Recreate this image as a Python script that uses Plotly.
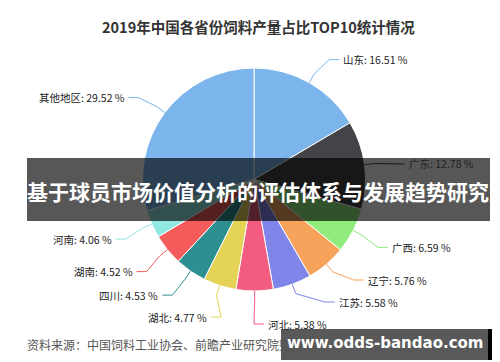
import math
import plotly.graph_objects as go

# ---- data ----
regions = ["山东", "广东", "广西", "辽宁", "江苏", "河北", "湖北", "四川", "湖南", "河南", "其他地区"]
shares = [16.51, 12.78, 6.59, 5.76, 5.58, 5.38, 4.77, 4.53, 4.52, 4.06, 29.52]
colors = ["#7cb5ec", "#434348", "#90ed7d", "#f7a35c", "#8085e9", "#f15c80",
          "#e4d354", "#2b908f", "#f45b5b", "#91e8e1", "#7cb5ec"]
title_text = "2019年中国各省份饲料产量占比TOP10统计情况"
banner_text = "基于球员市场价值分析的评估体系与发展趋势研究"
source_text = "资料来源：中国饲料工业协会、前瞻产业研究院整理"
site_text = "www.odds-bandao.com"

# ---- layout geometry (pixels) ----
W, H = 500, 362
cx, cy, r = 246.0, 171.5, 111.5
R = r + 30          # label circle
gap = 14            # gap between label circle and text
spacing = 22        # min vertical spacing between labels
FONT = "Noto Sans CJK SC, Noto Sans, DejaVu Sans"

fig = go.Figure()
fig.add_trace(go.Pie(
    labels=regions, values=shares, sort=False, direction="clockwise", rotation=0,
    marker=dict(colors=colors, line=dict(color="white", width=1)),
    textinfo="none", hoverinfo="label+percent", showlegend=False,
    domain=dict(x=[(cx - r) / W, (cx + r) / W], y=[(H - (cy + r)) / H, (H - (cy - r)) / H]),
))
# invisible pixel-space axes for annotations/shapes
fig.add_trace(go.Scatter(x=[0, W], y=[0, H], mode="markers", marker=dict(opacity=0),
                         hoverinfo="skip", showlegend=False))

total = sum(shares)
cum = 0.0
items = []
for name, v, c in zip(regions, shares, colors):
    mid = (cum + v / 2) / total * 2 * math.pi
    cum += v
    side = 1 if mid < math.pi else -1
    y = cy - R * math.cos(mid) + 3
    items.append(dict(name=name, v=v, c=c, th=mid, side=side, y=y))

for s in (1, -1):
    grp = sorted([it for it in items if it["side"] == s and it["y"] > cy], key=lambda d: -d["y"])
    prev = None
    for it in grp:
        if prev is not None:
            it["y"] = min(it["y"], prev - spacing)
        prev = it["y"]

shapes = []
annotations = []
for it in items:
    th, s, y = it["th"], it["side"], it["y"]
    dy = y - cy
    xc = cx + s * math.sqrt(max(R * R - dy * dy, 0))
    x0, y0 = cx + r * math.sin(th), cy - r * math.cos(th)
    x1, y1 = cx + (r + 10) * math.sin(th), cy - (r + 10) * math.cos(th)
    x3 = xc + s * (gap - 4)
    shapes.append(dict(type="path", xref="x", yref="y",
                       path=f"M {x0:.1f},{y0:.1f} L {x1:.1f},{y1:.1f} L {xc:.1f},{y:.1f} L {x3:.1f},{y:.1f}",
                       line=dict(color=it["c"], width=1)))
    annotations.append(dict(x=xc + s * (gap - 2), y=y, xref="x", yref="y",
                            text=f"{it['name']}: {it['v']:.2f} %", showarrow=False,
                            xanchor="left" if s > 0 else "right", yanchor="middle",
                            font=dict(family=FONT, size=10.5, color="#222222")))

# title
annotations.append(dict(x=250, y=18, xref="x", yref="y", text=f"<b>{title_text}</b>", showarrow=False,
                        xanchor="center", yanchor="middle", font=dict(family=FONT, size=14.5, color="#333333")))
# banner
shapes.append(dict(type="rect", xref="x", yref="y", x0=19, x1=482, y0=150, y1=213,
                   fillcolor="rgba(0,0,0,0.66)", line=dict(width=0), layer="above"))
annotations.append(dict(x=250, y=183, xref="x", yref="y", text=f"<b>{banner_text}</b>", showarrow=False,
                        xanchor="center", yanchor="middle", font=dict(family=FONT, size=21, color="white")))
# source
annotations.append(dict(x=17, y=336, xref="x", yref="y", text=source_text, showarrow=False,
                        xanchor="left", yanchor="middle", font=dict(family=FONT, size=12, color="#555555")))
# site box
shapes.append(dict(type="rect", xref="x", yref="y", x0=273, x1=480, y0=321, y1=352,
                   fillcolor="rgba(0,0,0,0.65)", line=dict(width=0), layer="above"))
shapes.append(dict(type="rect", xref="x", yref="y", x0=480, x1=487, y0=321, y1=352,
                   fillcolor="#000000", line=dict(width=0), layer="above"))
annotations.append(dict(x=377, y=335, xref="x", yref="y", text=f"<b>{site_text}</b>", showarrow=False,
                        xanchor="center", yanchor="middle", font=dict(family="DejaVu Sans, Noto Sans", size=15, color="white")))

fig.update_layout(
    width=W, height=H, margin=dict(l=0, r=0, t=0, b=0),
    paper_bgcolor="white", plot_bgcolor="rgba(0,0,0,0)",
    xaxis=dict(visible=False, range=[0, W], fixedrange=True),
    yaxis=dict(visible=False, range=[H, 0], fixedrange=True),
    shapes=shapes, annotations=annotations, showlegend=False,
)
fig.write_html("out.html")
